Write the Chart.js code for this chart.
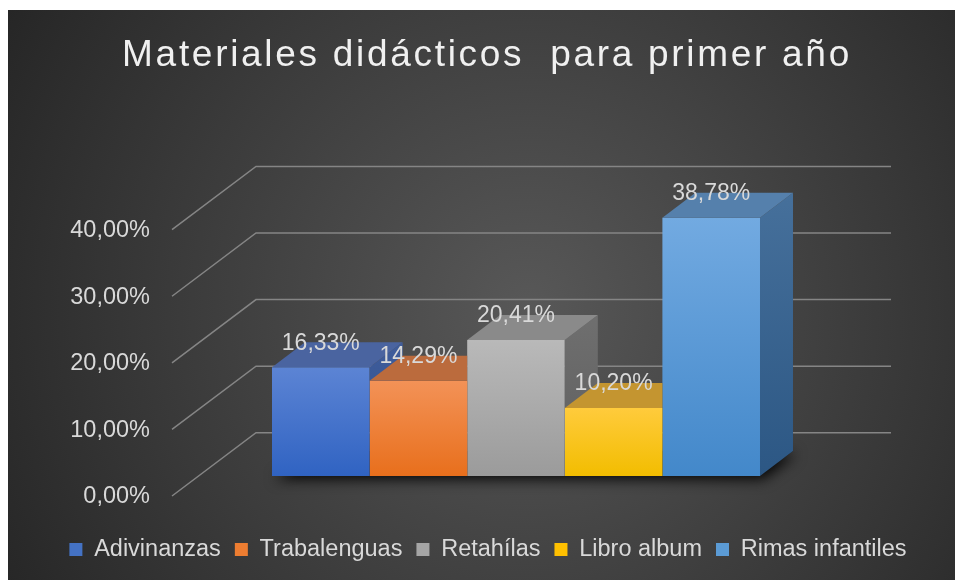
<!DOCTYPE html>
<html><head><meta charset="utf-8">
<script src="https://cdn.jsdelivr.net/npm/chart.js@4/dist/chart.umd.min.js"></script>
<style>
html,body{margin:0;padding:0;background:#ffffff;}
#wrap{position:absolute;left:8px;top:10px;width:947px;height:570px;}
</style></head><body>
<div id="wrap"><canvas id="c" width="947" height="570"></canvas></div>
<script>
// ---- data ----
const chartTitle = 'Materiales didácticos  para primer año';
const categories = [''];
const seriesNames = ['Adivinanzas', 'Trabalenguas', 'Retahílas', 'Libro album', 'Rimas infantiles'];
const seriesValues = [16.33, 14.29, 20.41, 10.20, 38.78];
const yTickValues = [0, 10, 20, 30, 40];

// ---- styles ----
const frontTop    = ['#5c84d4', '#f39257', '#b9b9b9', '#ffcb3c', '#72aae1'];
const frontBottom = ['#3063c2', '#e86f1c', '#9b9b9b', '#f2bd00', '#4388ca'];
const topFace     = ['#4a64a0', '#bb6b3d', '#8a8a8a', '#c49530', '#5580ac'];
const sideTop     = ['#3f5d9c', '#a85a25', '#6f6f6f', '#b08a10', '#46709b'];
const sideBottom  = ['#2f4d88', '#94501f', '#5e5e5e', '#9a780c', '#2c5784'];
const legendColor = ['#4472c4', '#ed7d31', '#a5a5a5', '#ffc000', '#5b9bd5'];
const TXT = '#d9d9d9';
const FONT = "'Liberation Sans', Arial, sans-serif";
const DEPTH = {dx: 33, dy: -25};      // bar depth
const FRONT = {dx: -26.5, dy: 20};    // bar plane -> front of floor
const BACK  = {dx: 57.5, dy: -43.3};  // bar plane -> back wall

const fmt = v => v.toFixed(2).replace('.', ',') + '%';

const bgPlugin = {
  id: 'bg',
  beforeDraw(chart) {
    const ctx = chart.ctx;
    ctx.save();
    const g = ctx.createRadialGradient(520, 300, 0, 520, 300, 600);
    g.addColorStop(0, '#585858');
    g.addColorStop(1, '#262626');
    ctx.fillStyle = g;
    ctx.fillRect(0, 0, chart.width, chart.height);
    // title
    ctx.font = '37px ' + FONT;
    ctx.fillStyle = '#f0f0f0';
    ctx.textBaseline = 'alphabetic';
    ctx.textAlign = 'center';
    try { ctx.letterSpacing = '2.7px'; } catch (e) {}
    ctx.fillText(chartTitle, 479, 55.7);
    ctx.restore();
  }
};

function bars(chart) {
  return seriesNames.map((_, i) => chart.getDatasetMeta(i).data[0]);
}

const gridPlugin = {
  id: 'grid3d',
  beforeDatasetsDraw(chart) {
    const ctx = chart.ctx, y = chart.scales.y, ca = chart.chartArea;
    ctx.save();
    ctx.strokeStyle = '#858585';
    ctx.lineWidth = 1.5;
    y.ticks.forEach(t => {
      const py = y.getPixelForValue(t.value);
      ctx.beginPath();
      ctx.moveTo(ca.left + FRONT.dx, py + FRONT.dy);
      ctx.lineTo(ca.left + BACK.dx, py + BACK.dy);
      ctx.lineTo(ca.right + BACK.dx, py + BACK.dy);
      ctx.stroke();
    });
    // soft floor shadow under the bars (footprint itself is hidden by the bars)
    const bs = bars(chart);
    const f = bs[0], l = bs[bs.length - 1];
    const left = f.x - f.width / 2, right = l.x + l.width / 2, base = f.base;
    ctx.shadowColor = 'rgba(0,0,0,0.95)';
    ctx.shadowBlur = 14;
    ctx.shadowOffsetX = 3;
    ctx.shadowOffsetY = 3;
    ctx.fillStyle = 'rgba(20,20,20,1)';
    ctx.beginPath();
    ctx.moveTo(left, base);
    ctx.lineTo(right, base);
    ctx.lineTo(right + DEPTH.dx, base + DEPTH.dy);
    ctx.lineTo(left + DEPTH.dx, base + DEPTH.dy);
    ctx.closePath();
    ctx.fill();
    ctx.restore();
  }
};

const facesPlugin = {
  id: 'faces3d',
  afterDatasetsDraw(chart) {
    const ctx = chart.ctx;
    const bs = bars(chart);
    bs.forEach((b, i) => {
      const xl = b.x - b.width / 2, xr = b.x + b.width / 2, top = b.y, base = b.base;
      ctx.save();
      const n = bs[i + 1];
      if (n) {
        ctx.beginPath();
        ctx.rect(0, 0, chart.width, chart.height);
        ctx.rect(n.x - n.width / 2, n.y, n.width, n.base - n.y);
        ctx.clip('evenodd');
      }
      // side face
      const sg = ctx.createLinearGradient(0, top + DEPTH.dy, 0, base);
      sg.addColorStop(0, sideTop[i]);
      sg.addColorStop(1, sideBottom[i]);
      ctx.fillStyle = sg;
      ctx.beginPath();
      ctx.moveTo(xr, top);
      ctx.lineTo(xr + DEPTH.dx, top + DEPTH.dy);
      ctx.lineTo(xr + DEPTH.dx, base + DEPTH.dy);
      ctx.lineTo(xr, base);
      ctx.closePath();
      ctx.fill();
      // top face
      ctx.fillStyle = topFace[i];
      ctx.beginPath();
      ctx.moveTo(xl, top);
      ctx.lineTo(xr, top);
      ctx.lineTo(xr + DEPTH.dx, top + DEPTH.dy);
      ctx.lineTo(xl + DEPTH.dx, top + DEPTH.dy);
      ctx.closePath();
      ctx.fill();
      ctx.restore();
    });
    // data labels
    ctx.save();
    ctx.font = '23px ' + FONT;
    ctx.fillStyle = TXT;
    ctx.textAlign = 'center';
    ctx.textBaseline = 'middle';
    bs.forEach((b, i) => {
      ctx.fillText(fmt(seriesValues[i]), b.x, b.y + DEPTH.dy + 1);
    });
    ctx.restore();
  }
};

const datasets = seriesNames.map((name, i) => ({
  label: name,
  data: [seriesValues[i]],
  borderWidth: 0,
  backgroundColor: (c) => {
    const chart = c.chart;
    const y = chart.scales && chart.scales.y;
    if (!y || y.top === undefined) return legendColor[i];
    const g = chart.ctx.createLinearGradient(0, y.getPixelForValue(seriesValues[i]), 0, y.getPixelForValue(0));
    g.addColorStop(0, frontTop[i]);
    g.addColorStop(1, frontBottom[i]);
    return g;
  }
}));

new Chart(document.getElementById('c'), {
  type: 'bar',
  data: { labels: categories, datasets },
  plugins: [bgPlugin, gridPlugin, facesPlugin],
  options: {
    responsive: false,
    animation: false,
    events: [],
    layout: { padding: { left: 13, right: 0, top: 199.7, bottom: 8.75 } },
    datasets: { bar: { categoryPercentage: 0.7685, barPercentage: 1 } },
    scales: {
      x: {
        display: true,
        grid: { display: false },
        border: { display: false },
        ticks: { display: false },
        afterFit: (s) => { s.height = 47.75; }
      },
      y: {
        min: 0, max: 40,
        afterBuildTicks: (s) => { s.ticks = yTickValues.map(v => ({ value: v })); },
        grid: { display: false },
        border: { display: false },
        ticks: {
          padding: 40.5,
          labelOffset: 21,
          color: TXT,
          font: { family: FONT, size: 23.5 },
          callback: (v) => fmt(v)
        },
        afterFit: (s) => { s.width = 177.5; }
      },
      y2: {
        type: 'linear',
        position: 'right',
        display: true,
        grid: { display: false },
        border: { display: false },
        ticks: { display: false },
        afterFit: (s) => { s.width = 121.5; }
      }
    },
    plugins: {
      title: { display: false },
      tooltip: { enabled: false },
      legend: {
        display: true,
        position: 'bottom',
        labels: {
          boxWidth: 13,
          boxHeight: 13,
          padding: 14,
          color: TXT,
          font: { family: FONT, size: 23.5 },
          generateLabels: () => seriesNames.map((name, i) => ({
            text: name, fillStyle: legendColor[i], strokeStyle: legendColor[i],
            lineWidth: 0, hidden: false, datasetIndex: i, fontColor: TXT
          }))
        }
      }
    }
  }
});
</script>
</body></html>
